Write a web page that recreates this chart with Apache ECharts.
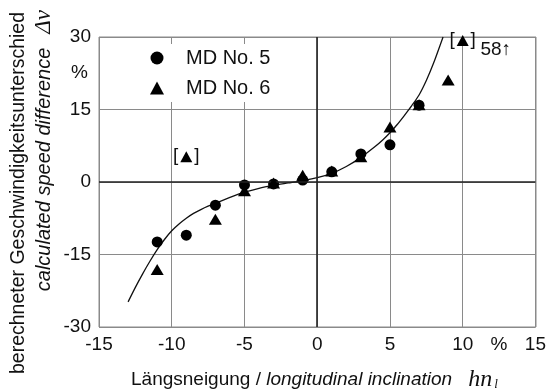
<!DOCTYPE html>
<html>
<head>
<meta charset="utf-8">
<script src="https://cdn.jsdelivr.net/npm/echarts@6/dist/echarts.min.js"></script>
<style>
  html, body { margin: 0; padding: 0; background: #fff; }
  #chart { width: 549px; height: 390px; }
</style>
</head>
<body>
<div id="chart"></div>
<script>
// MD No. 5 (Kreise)
const incl5 = [-11, -9, -7, -5, -3, -1, 1, 3, 5, 7]
const diff5 = [-12.4, -11.0, -4.8, -0.6, -0.4, 0.4, 2.1, 5.8, 7.7, 15.9]
// MD No. 6 (Dreiecke)
const incl6 = [-11, -7, -5, -3, -1, 1, 3, 5, 7, 9]
const diff6 = [-18.1, -7.7, -1.8, -0.2, 1.4, 2.3, 5.2, 11.4, 16.0, 21.1]
// eingeklammerte Ausreißer
const outlierX = [-9, 10]
const outlierY = [5.2, 29.3]
// Ausgleichskurve
const curveX = [-13, -12.5, -12, -11.5, -11, -10.5, -10, -9.5, -9, -8.5, -8, -7.5, -7, -6.5, -6, -5.5, -5, -4, -3, -2, -1, 0, 1, 2, 3, 4, 4.5, 5, 5.5, 6, 6.5, 7, 7.5, 8, 8.65]
const curveY = [-24.8, -21.8, -19.0, -16.4, -14.0, -11.9, -10.1, -8.7, -7.5, -6.5, -5.7, -5.0, -4.4, -3.8, -3.2, -2.6, -2.1, -1.3, -0.7, -0.2, 0.3, 0.9, 1.8, 3.2, 5.1, 7.4, 8.7, 10.2, 11.9, 13.8, 15.8, 18.0, 21.0, 24.6, 30]

const font = '"Liberation Sans", Arial, sans-serif'
const zip = (xs, ys) => xs.map((x, i) => [x, ys[i]])

const chart = echarts.init(document.getElementById('chart'))

const option = {
  animation: false,
  textStyle: { fontFamily: font, color: '#111' },
  grid: { left: 99, right: 13, top: 37, bottom: 63 },
  legend: {
    orient: 'vertical',
    left: 110,
    top: 44,
    padding: [4, 14, 4, 40],
    itemGap: 10,
    itemWidth: 14,
    itemHeight: 13,
    backgroundColor: '#fff',
    textStyle: { fontSize: 20, lineHeight: 20, fontFamily: font, color: '#111', padding: [0, 0, 0, 17] },
    data: [
      { name: 'MD No. 5', icon: 'circle' },
      { name: 'MD No. 6', icon: 'triangle' }
    ]
  },
  xAxis: [
    {
      type: 'value',
      min: -15,
      max: 15,
      interval: 5,
      axisLine: { show: false },
      axisTick: { show: false },
      axisLabel: { fontSize: 19, color: '#111', margin: 8 },
      splitLine: { lineStyle: { color: '#8a8a8a', width: 1 } }
    },
    // nur für die Einheit "%"
    {
      type: 'value',
      position: 'bottom',
      min: -15,
      max: 15,
      interval: 2.5,
      axisLine: { show: false },
      axisTick: { show: false },
      splitLine: { show: false },
      axisLabel: { fontSize: 19, color: '#111', margin: 8, formatter: (v) => (v === 12.5 ? '%' : '') }
    }
  ],
  yAxis: [
    {
      type: 'value',
      min: -30,
      max: 30,
      interval: 15,
      axisLine: { show: false },
      axisTick: { show: false },
      axisLabel: { fontSize: 19, color: '#111', margin: 8 },
      splitLine: { lineStyle: { color: '#8a8a8a', width: 1 } }
    },
    {
      type: 'value',
      position: 'left',
      min: -30,
      max: 30,
      interval: 7.5,
      axisLine: { show: false },
      axisTick: { show: false },
      splitLine: { show: false },
      axisLabel: { fontSize: 19, color: '#111', margin: 11, formatter: (v) => (v === 22.5 ? '%' : '') }
    }
  ],
  graphic: [
    // Rahmen oben / rechts
    {
      type: 'rect',
      shape: { x: 99, y: 37, width: 437, height: 290 },
      style: { fill: 'none', stroke: '#8a8a8a', lineWidth: 1 },
      z: 0,
      silent: true
    },
    {
      type: 'text',
      x: 19,
      y: 12,
      rotation: Math.PI / 2,
      style: {
        text: 'berechneter Geschwindigkeitsunterschied',
        font: '19.5px ' + font,
        fill: '#111',
        align: 'right',
        verticalAlign: 'middle'
      }
    },
    {
      type: 'text',
      x: 44,
      y: 10,
      rotation: Math.PI / 2,
      style: {
        text: '{i|calculated speed difference}{s|Δv}',
        align: 'right',
        verticalAlign: 'middle',
        rich: {
          i: { font: 'italic 20px ' + font, fill: '#111' },
          s: { font: 'italic 23px "Liberation Serif", serif', fill: '#111', padding: [0, 0, 0, 14] }
        }
      }
    },
    {
      type: 'text',
      x: 131,
      y: 380,
      style: {
        text: '{n|Längsneigung / }{i|longitudinal inclination}{h|hn}{sub|l}',
        align: 'left',
        verticalAlign: 'middle',
        rich: {
          n: { font: '19px ' + font, fill: '#111' },
          i: { font: 'italic 19px ' + font, fill: '#111' },
          h: { font: 'italic 24px "Liberation Serif", serif', fill: '#111', padding: [0, 0, 0, 16] },
          sub: { font: 'italic 13px "Liberation Serif", serif', fill: '#111', padding: [10, 0, 0, 2] }
        }
      }
    }
  ],
  series: [
    {
      name: 'Kurve',
      type: 'line',
      data: zip(curveX, curveY),
      smooth: 0.25,
      showSymbol: false,
      lineStyle: { color: '#111', width: 1.3 },
      silent: true,
      z: 3,
      markLine: {
        silent: true,
        symbol: 'none',
        label: { show: false },
        lineStyle: { color: '#222', width: 1.6, type: 'solid' },
        data: [{ xAxis: 0 }, { yAxis: 0 }]
      }
    },
    {
      name: 'MD No. 5',
      type: 'scatter',
      data: zip(incl5, diff5),
      symbol: 'circle',
      symbolSize: 11,
      itemStyle: { color: '#000', opacity: 1 },
      z: 4
    },
    {
      name: 'MD No. 6',
      type: 'scatter',
      data: zip(incl6, diff6),
      symbol: 'triangle',
      symbolSize: [13, 11],
      itemStyle: { color: '#000', opacity: 1 },
      z: 5
    },
    {
      name: 'Ausreißer',
      type: 'scatter',
      data: zip(outlierX, outlierY),
      symbol: 'triangle',
      symbolSize: [12, 11],
      itemStyle: { color: '#000', opacity: 1 },
      label: {
        show: true,
        position: 'inside',
        formatter: '[   ]',
        fontSize: 19,
        color: '#111',
        offset: [0, -1]
      },
      z: 5,
      markPoint: {
        symbol: 'circle',
        symbolSize: 0,
        silent: true,
        label: { show: true, formatter: '58↑', fontSize: 19, color: '#111', offset: [33, 9] },
        data: [{ coord: [outlierX[1], outlierY[1]] }]
      }
    }
  ]
}

chart.setOption(option)
</script>
</body>
</html>
